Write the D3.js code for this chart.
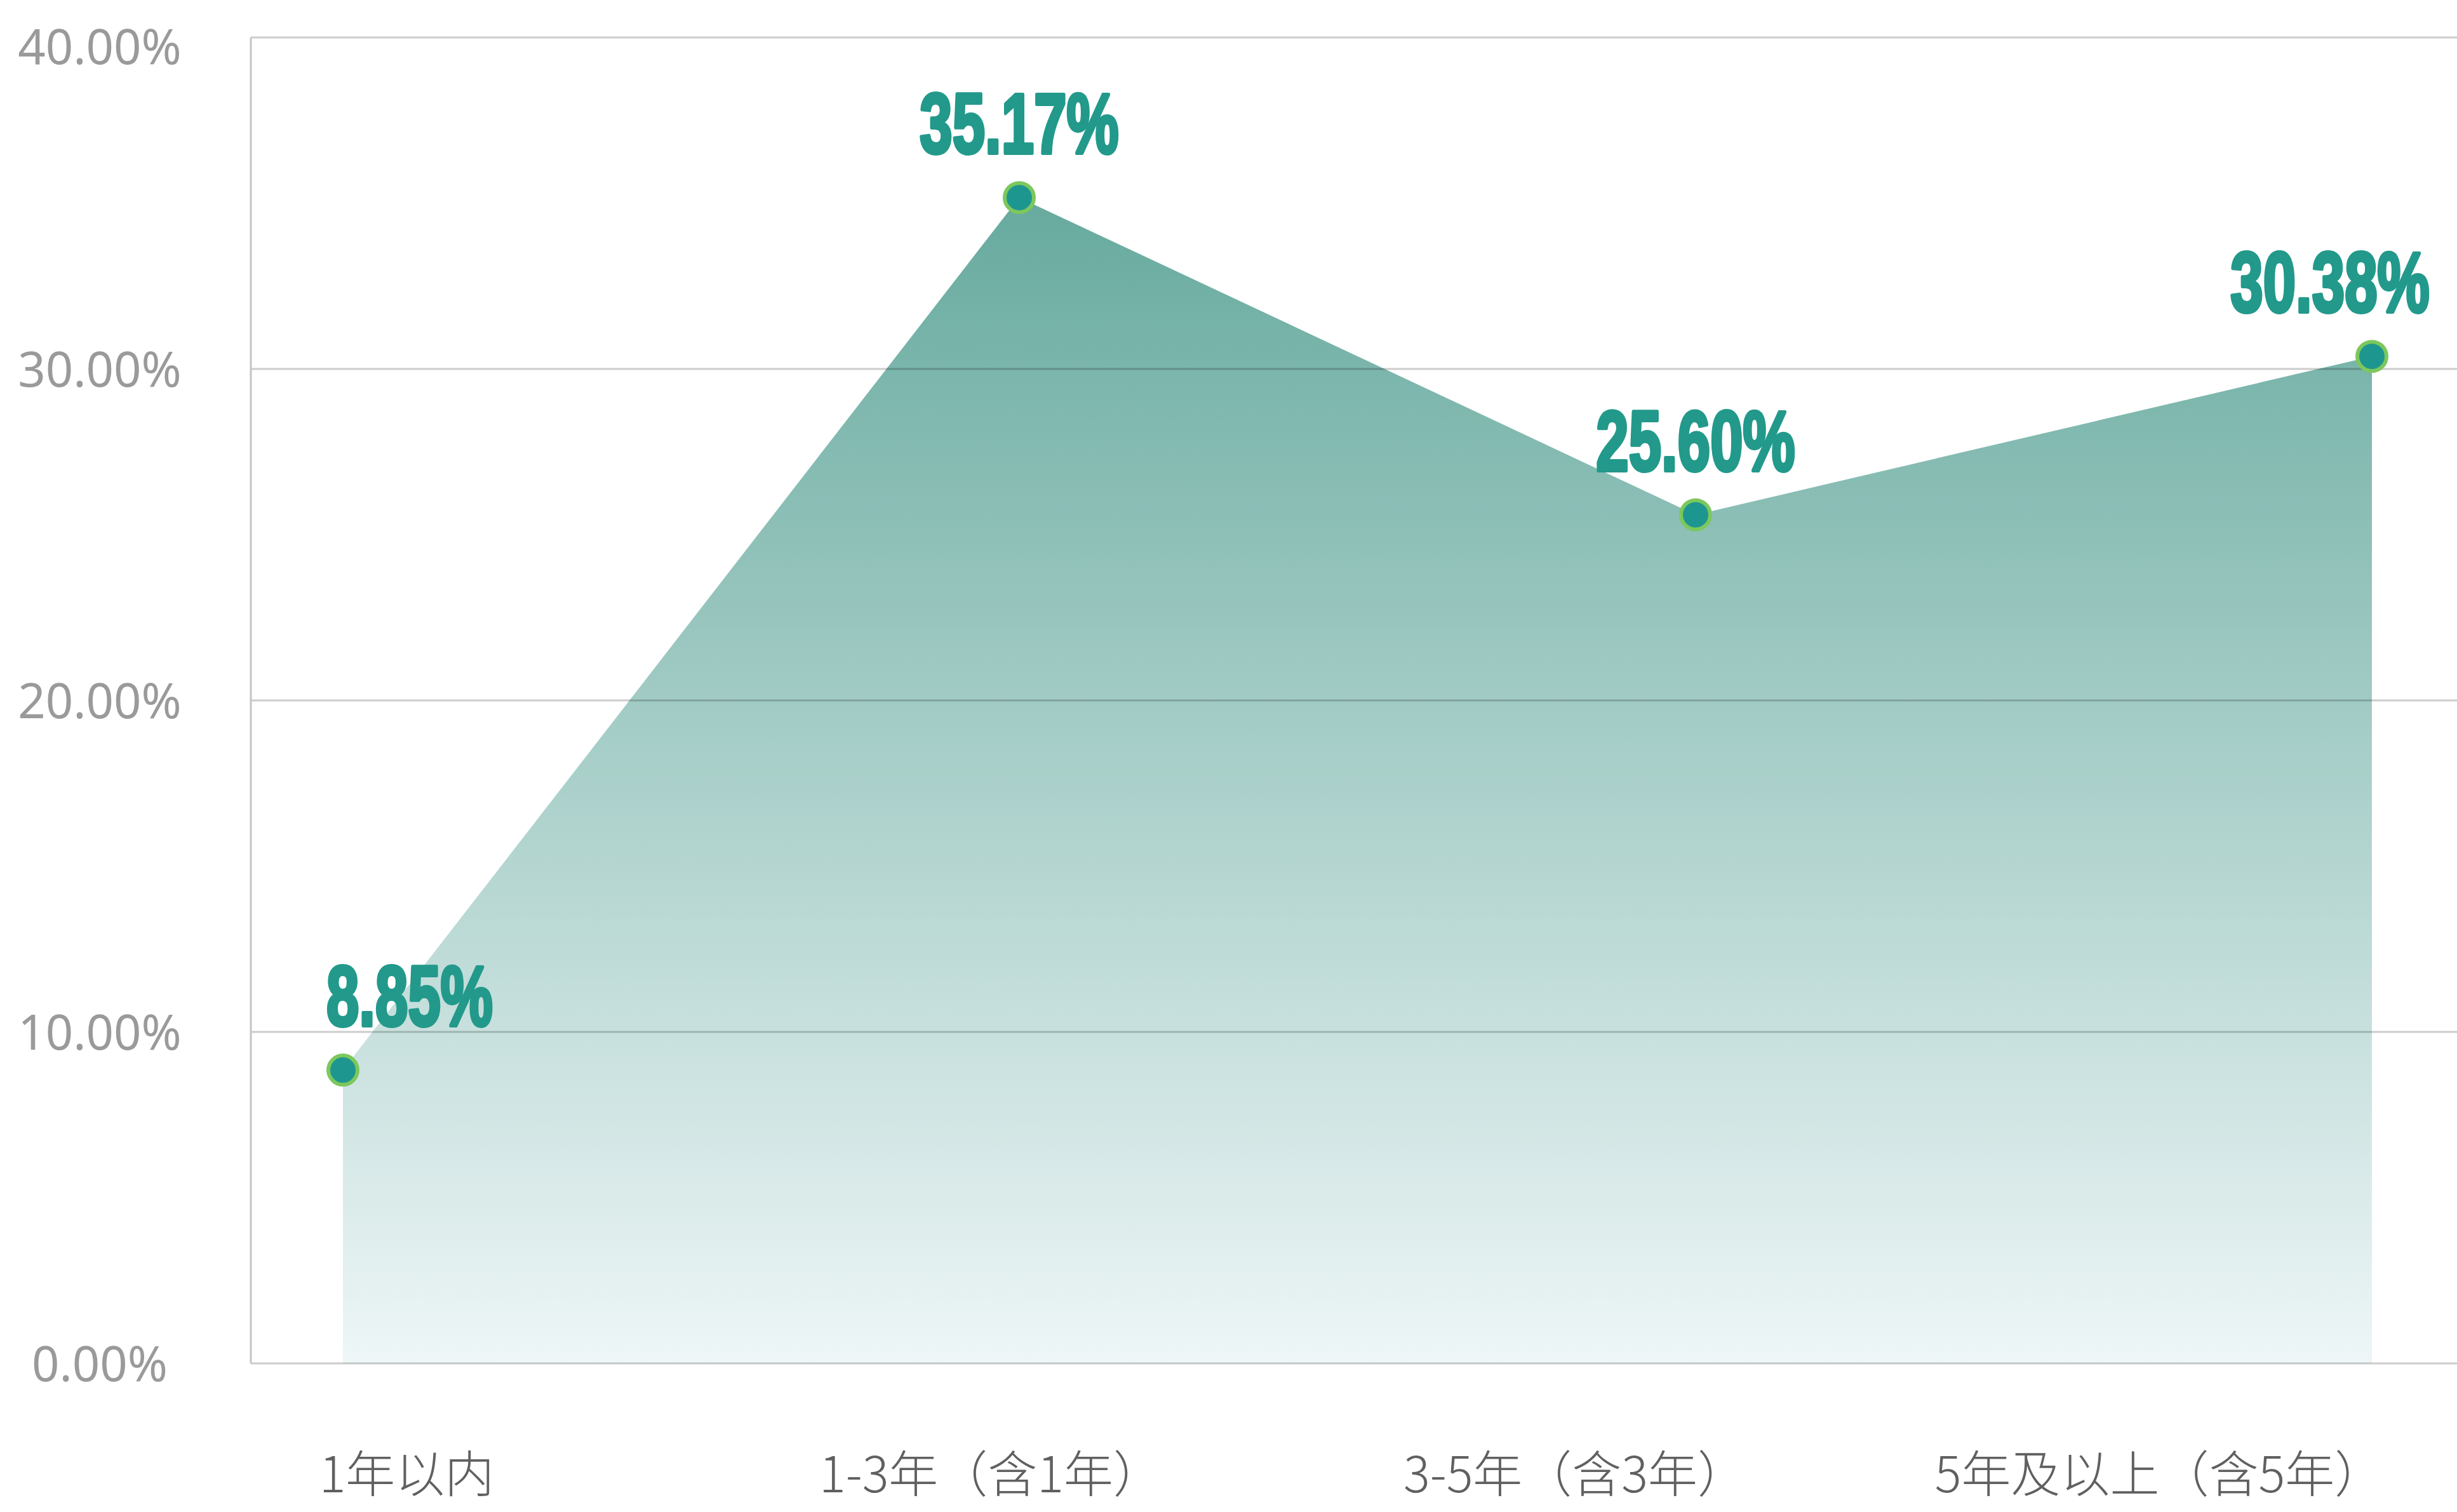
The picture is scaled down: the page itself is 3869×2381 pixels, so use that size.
<!DOCTYPE html>
<html>
<head>
<meta charset="utf-8">
<script src="https://cdn.jsdelivr.net/npm/d3@7"></script>
<style>
  body { margin: 0; background: #fff; }
</style>
</head>
<body>
<div id="graph"></div>
<script>
// donnees du graphique
let categories = ['1年以内', '1-3年（含1年）', '3-5年（含3年）', '5年及以上（含5年）'];
let values = [0.0885, 0.3517, 0.2560, 0.3038];
let yTicks = [0, 0.10, 0.20, 0.30, 0.40];

// dimensions
let width = 3869;
let height = 2381;
let plotLeft = 395;
let plotTop = 59;
let plotBottom = 2147;

let teal = '#22998b';

let data = categories.map((c, i) => ({ cat: c, v: values[i] }));

let svg = d3.select('#graph').append('svg')
    .attr('width', width)
    .attr('height', height);

let y = d3.scaleLinear()
    .domain([0, 0.40])
    .range([plotBottom, plotTop]);

// position des points
let x = d3.scalePoint()
    .domain(categories)
    .range([540, 3735]);

// position des libelles en bas
let xLabel = d3.scalePoint()
    .domain(categories)
    .range([640, 3400]);

// degrade de la surface
let defs = svg.append('defs');
let grad = defs.append('linearGradient')
    .attr('id', 'areaGrad')
    .attr('gradientUnits', 'userSpaceOnUse')
    .attr('x1', 0).attr('x2', 0)
    .attr('y1', y(d3.max(values))).attr('y2', plotBottom);
grad.append('stop').attr('offset', '0%').attr('stop-color', '#67aa9e');
grad.append('stop').attr('offset', '100%').attr('stop-color', '#eef6f7');

let area = d3.area()
    .x(d => x(d.cat))
    .y0(plotBottom)
    .y1(d => y(d.v));

svg.append('path')
    .datum(data)
    .attr('fill', 'url(#areaGrad)')
    .attr('d', area);

// grille
svg.append('g')
    .selectAll('line')
    .data(yTicks)
    .join('line')
    .attr('x1', plotLeft)
    .attr('x2', width)
    .attr('y1', d => y(d))
    .attr('y2', d => y(d))
    .attr('stroke', '#000')
    .attr('stroke-opacity', 0.2)
    .attr('stroke-width', 3);

svg.append('line')
    .attr('x1', plotLeft).attr('x2', plotLeft)
    .attr('y1', y(0.40)).attr('y2', plotBottom)
    .attr('stroke', '#c4c4c4')
    .attr('stroke-width', 3);

// axe Y
let yAxis = svg.append('g')
    .attr('transform', 'translate(157,0)')
    .call(d3.axisLeft(y).tickValues(yTicks).tickFormat(d3.format('.2%')).tickSize(0));
yAxis.select('.domain').remove();
yAxis.selectAll('text')
    .attr('x', 0)
    .attr('y', d => d == 0.40 ? 14 : 0)
    .attr('dy', '0.36em')
    .attr('text-anchor', 'middle')
    .attr('fill', '#9a9a9a')
    .attr('font-family', '"Noto Sans", sans-serif')
    .attr('font-size', 76);

// axe X
let xAxis = svg.append('g')
    .attr('transform', 'translate(0,2322)')
    .call(d3.axisBottom(xLabel).tickSize(0));
xAxis.select('.domain').remove();
xAxis.selectAll('text')
    .attr('y', 0)
    .attr('dy', '0.36em')
    .attr('fill', '#606060')
    .attr('font-family', '"Noto Sans CJK SC", sans-serif')
    .attr('font-weight', 300)
    .attr('font-size', 78);

// points
svg.append('g')
    .selectAll('circle')
    .data(data)
    .join('circle')
    .attr('cx', d => x(d.cat))
    .attr('cy', d => y(d.v))
    .attr('r', 23)
    .attr('fill', '#1e9690')
    .attr('stroke', '#7cc85c')
    .attr('stroke-width', 6);

// etiquettes des valeurs
let halfLabel = 160;
svg.append('g')
    .selectAll('text')
    .data(data)
    .join('text')
    .attr('transform', d => {
        let lx = Math.max(plotLeft + 250, Math.min(x(d.cat), width - 40 - halfLabel));
        return 'translate(' + lx + ',' + (y(d.v) - 70) + ') scale(0.69,1)';
    })
    .attr('text-anchor', 'middle')
    .attr('fill', teal)
    .attr('stroke', teal)
    .attr('stroke-width', 6)
    .attr('stroke-linejoin', 'round')
    .attr('font-family', '"Liberation Sans Narrow", "Liberation Sans", sans-serif')
    .attr('font-weight', 'bold')
    .attr('font-size', 134)
    .text(d => d3.format('.2%')(d.v));
</script>
</body>
</html>
